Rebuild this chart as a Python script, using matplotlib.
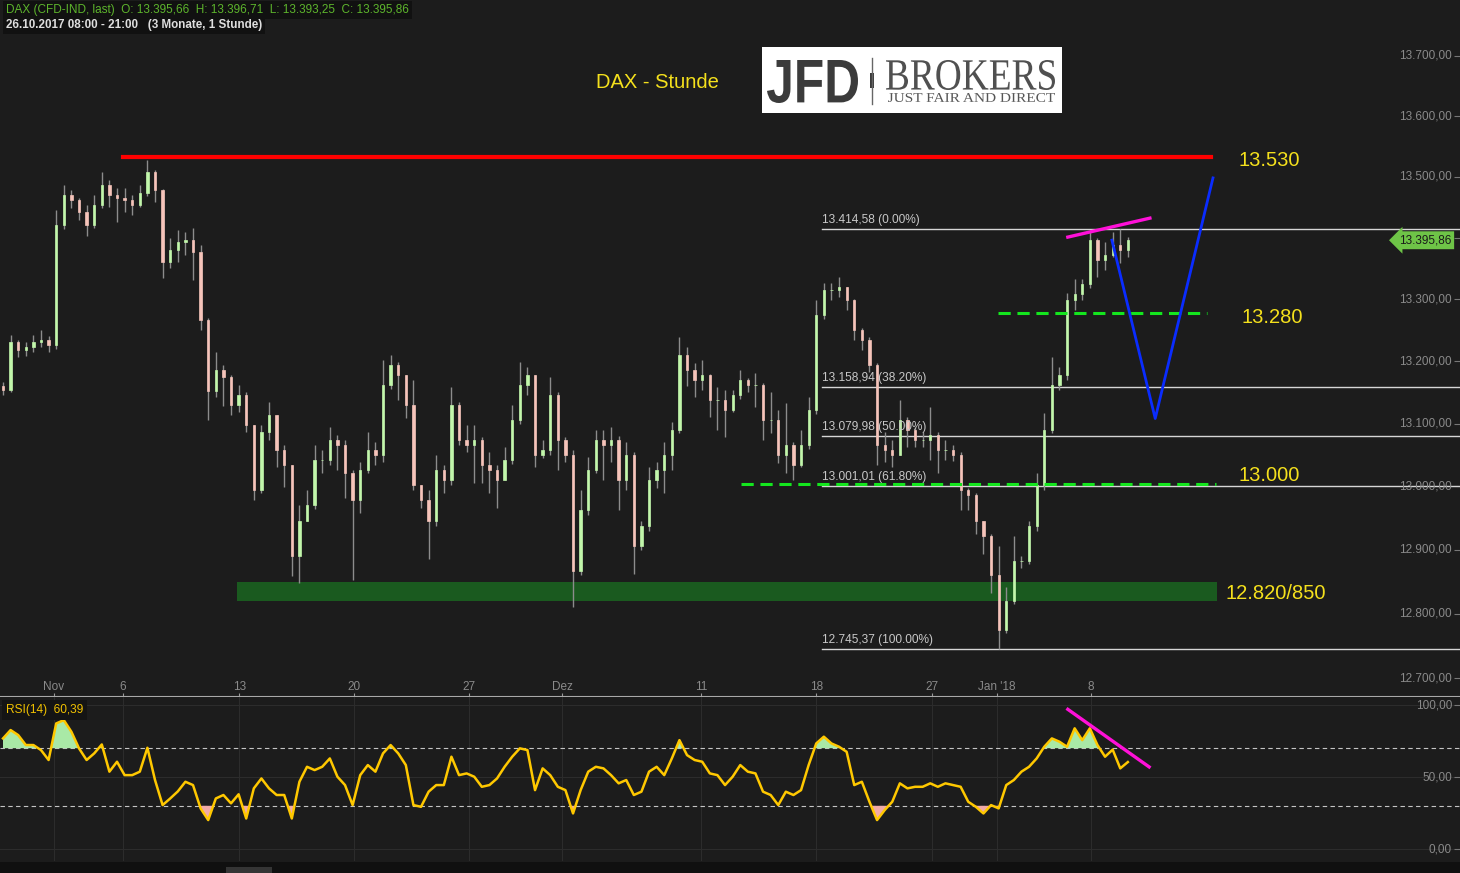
import numpy as np
import matplotlib.pyplot as plt
from matplotlib.patches import Rectangle, PathPatch
from matplotlib.lines import Line2D
from matplotlib.textpath import TextPath
from matplotlib.font_manager import FontProperties
from matplotlib.transforms import Affine2D, blended_transform_factory
from matplotlib.ticker import FixedLocator, NullLocator

plt.rcParams['font.family'] = ['Liberation Sans', 'DejaVu Sans']

########## price data (hourly bars, resampled to ~3 bars per day)
first_open = 13160
close = [13154, 13230, 13218, 13222, 13231, 13234, 13226, 13421, 13470, 13462,
         13442, 13421, 13454, 13486, 13470, 13465, 13462, 13454, 13473, 13508,
         13478, 13361, 13380, 13393, 13397, 13377, 13266, 13152, 13186, 13174,
         13130, 13146, 13098, 12994, 13087, 13114, 13058, 13034, 12890, 12946,
         12970, 13042, 13042, 13074, 13066, 13022, 12978, 13026, 13058, 13050,
         13162, 13194, 13178, 13130, 13002, 12978, 12946, 13026, 13010, 13130,
         13074, 13066, 13074, 13034, 13026, 13010, 13042, 13106, 13162, 13178,
         13050, 13058, 13146, 13074, 13050, 12867, 12962, 13026, 13074, 13066,
         13074, 13010, 13050, 12906, 12938, 13010, 13026, 13050, 13090, 13210,
         13186, 13170, 13178, 13138, 13138, 13122, 13146, 13170, 13162, 13162,
         13106, 13106, 13050, 13066, 13034, 13066, 13122, 13274, 13315, 13315,
         13320, 13298, 13250, 13234, 13194, 13066, 13058, 13050, 13106, 13090,
         13074, 13074, 13082, 13058, 13058, 13050, 12994, 12986, 12946, 12922,
         12860, 12774, 12820, 12883, 12883, 12938, 13002, 13090, 13162, 13178,
         13298, 13308, 13324, 13397, 13364, 13372, 13388, 13380, 13395.86]
high = [13166, 13242, 13234, 13231, 13242, 13250, 13241, 13446, 13486, 13478,
        13465, 13454, 13470, 13508, 13494, 13481, 13481, 13470, 13486, 13528,
        13511, 13480, 13400, 13413, 13410, 13416, 13388, 13270, 13215, 13194,
        13178, 13162, 13150, 13098, 13098, 13135, 13114, 13066, 13034, 12970,
        12994, 13066, 13058, 13095, 13082, 13074, 13026, 13039, 13087, 13070,
        13202, 13210, 13199, 13178, 13170, 13002, 12994, 13050, 13034, 13158,
        13135, 13098, 13098, 13079, 13055, 13034, 13062, 13130, 13199, 13190,
        13178, 13074, 13175, 13150, 13079, 13058, 12994, 13047, 13090, 13090,
        13094, 13080, 13070, 13055, 12946, 13031, 13038, 13070, 13102, 13239,
        13222, 13197, 13202, 13180, 13158, 13154, 13154, 13186, 13173, 13181,
        13165, 13150, 13122, 13133, 13070, 13090, 13142, 13298, 13326, 13326,
        13336, 13315, 13300, 13254, 13239, 13197, 13086, 13074, 13138, 13111,
        13094, 13086, 13127, 13086, 13074, 13065, 13054, 12998, 12990, 12946,
        12925, 12906, 12841, 12922, 12890, 12946, 13021, 13117, 13207, 13190,
        13310, 13332, 13332, 13413, 13400, 13393, 13410, 13414, 13401]
low = [13145, 13150, 13207, 13209, 13215, 13222, 13215, 13220, 13415, 13449,
       13429, 13403, 13416, 13449, 13451, 13426, 13442, 13437, 13451, 13468,
       13459, 13334, 13351, 13361, 13372, 13331, 13250, 13106, 13142, 13128,
       13114, 13118, 13087, 12978, 12990, 13074, 13031, 12999, 12859, 12848,
       12946, 12965, 13022, 13034, 13026, 12982, 12852, 12958, 13022, 13034,
       13038, 13155, 13138, 13109, 12994, 12966, 12885, 12938, 12990, 13002,
       13066, 13055, 13005, 13005, 12989, 12966, 13018, 13035, 13100, 13146,
       13031, 13045, 13050, 13026, 13039, 12810, 12860, 12955, 13021, 13010,
       13038, 12962, 12994, 12862, 12900, 12930, 12998, 12990, 13026, 13085,
       13160, 13143, 13154, 13111, 13090, 13079, 13118, 13140, 13150, 13127,
       13074, 13085, 13037, 13021, 13010, 13031, 13060, 13115, 13268, 13298,
       13303, 13282, 13234, 13218, 13182, 13034, 13038, 13031, 13050, 13063,
       13063, 13063, 13042, 13021, 13042, 13041, 12962, 12962, 12925, 12894,
       12832, 12745, 12770, 12815, 12872, 12878, 12930, 12995, 13085, 13154,
       13170, 13282, 13298, 13318, 13336, 13348, 13369, 13359, 13369]
rsi = [76.8, 82.6, 79.1, 72.2, 72.2, 68.7, 61.8, 87.2, 89.5, 81.4,
       69.9, 61.8, 66.4, 72.6, 53.7, 60.6, 51.3, 51.3, 53.7, 70.3,
       47.9, 30.5, 35.1, 40.0, 46.7, 44.4, 28.2, 20.1, 35.1, 37.5,
       31.7, 38.0, 21.2, 42.1, 49.0, 42.1, 37.5, 37.5, 21.2, 46.7,
       57.1, 54.8, 57.1, 62.9, 50.2, 44.4, 30.5, 51.3, 58.3, 53.7,
       66.4, 72.2, 66.4, 58.3, 30.5, 29.3, 39.8, 44.4, 44.4, 64.1,
       51.3, 52.5, 50.2, 43.2, 44.4, 49.0, 57.1, 64.1, 69.9, 68.7,
       40.9, 56.0, 51.3, 43.2, 40.9, 24.7, 40.9, 53.7, 57.1, 56.0,
       51.3, 45.6, 47.9, 37.5, 39.8, 53.7, 57.1, 51.3, 62.9, 75.6,
       65.2, 61.8, 60.6, 52.5, 51.3, 44.4, 50.2, 58.3, 53.7, 52.5,
       39.8, 37.5, 30.5, 39.8, 37.5, 40.9, 58.3, 73.3, 78.0, 73.3,
       71.0, 67.5, 44.4, 46.7, 32.8, 20.1, 27.0, 32.8, 45.6, 42.1,
       43.2, 43.2, 45.6, 43.2, 45.6, 44.4, 43.2, 32.8, 29.3, 24.7,
       30.5, 28.2, 44.4, 47.9, 53.7, 57.1, 62.9, 71.0, 76.8, 74.5,
       71.0, 83.8, 75.6, 83.8, 72.2, 64.1, 69.0, 56.0, 60.39]

tick_pos = [6.7, 15.8, 31.1, 46.2, 61.3, 73.6, 91.9, 107.0, 122.2, 130.8, 143.1]
tick_lab = ['Nov', '6', '13', '20', '27', 'Dez', '11', '18', '27', "Jan '18", '8']
price_ticks = [12700, 12800, 12900, 13000, 13100, 13200, 13300, 13400, 13500, 13600, 13700]
rsi_ticks = [0, 50, 100]

fib_levels = [13414.58, 13158.94, 13079.98, 13001.01, 12745.37]
fib_pct = ['0.00%', '38.20%', '50.00%', '61.80%', '100.00%']
fib_start = 107.8

resistance = 13532
resistance_x = [15.8, 158.9]
support = [13278, 13004]
support_x = [[130.9, 158.4], [97.1, 159.6]]
zone = [12820, 12850]
zone_x = [30.8, 159.7]
wedge_x = [140.1, 150.9]
wedge_y = [13401, 13432]
path_x = [145.9, 151.6, 159.2]
path_y = [13396, 13108, 13498]
rsi_trend_x = [140.1, 150.8]
rsi_trend_y = [97, 57]
level_text = ['13.530', '13.280', '13.000', '12.820/850']
level_x = [162.6, 162.9, 162.6, 160.9]
level_y = [13526, 13271, 13017, 12831]


def de(v):
    return f"{v:,.2f}".replace(',', ' ').replace('.', ',').replace(' ', '.')


W, H = 1460, 873
bg = '#1c1c1c'
yellow = '#f4e01c'
grey = '#8a8a8a'

fig = plt.figure(figsize=(W / 100, H / 100), dpi=100)
fig.patch.set_facecolor(bg)
ax = fig.add_axes([0, 1 - 697 / H, 1, 697 / H], facecolor=bg)
rax = fig.add_axes([0, 1 - 861 / H, 1, 164 / H], facecolor=bg)

x = np.arange(len(close))
close = np.array(close, float)
opens = np.r_[first_open, close[:-1]]
high = np.maximum(np.array(high, float), np.maximum(opens, close))
low = np.minimum(np.array(low, float), np.minimum(opens, close))
up = close >= opens

##################################### candles
ax.set_yscale('log')
ax.vlines(x, low, high, color='#8c8c8c', lw=1.0, zorder=3)
ax.bar(x[up], (close - opens)[up], bottom=opens[up], width=0.3,
       color='#c2f7ab', edgecolor='#c2f7ab', lw=0.5, zorder=4)
ax.bar(x[~up], (opens - close)[~up], bottom=close[~up], width=0.3,
       color='#f6c4ba', edgecolor='#f6c4ba', lw=0.5, zorder=4)

ax.set_xlim(-0.395, 191.7)
ax.set_ylim(12670.7, 13793.8)
rax.set_xlim(-0.395, 191.7)
rax.set_ylim(-8.33, 105.56)

##################################### analysis drawings
ax.fill_between(zone_x, zone[0], zone[1], color='#1a5a1f', lw=0, zorder=2)
for lvl, pct in zip(fib_levels, fib_pct):
    ax.plot([fib_start, 200], [lvl, lvl], color='#d6d6d6', lw=1, zorder=2)
    ax.annotate(f"{de(lvl)} ({pct})", (fib_start, lvl), xytext=(0, 2),
                textcoords='offset points', color='#c8c8c8', fontsize=8.6,
                ha='left', va='bottom', zorder=5)
ax.plot(resistance_x, [resistance, resistance], color='#ff0000', lw=3, zorder=6)
for lvl, sx in zip(support, support_x):
    ax.plot(sx, [lvl, lvl], color='#14e61e', lw=2.2, dashes=(4, 2.2), zorder=6)
ax.plot(wedge_x, wedge_y, color='#ff10d8', lw=2.4, zorder=7)
ax.plot(path_x, path_y, color='#0a2cff', lw=2, zorder=7)
for t, lx, ly in zip(level_text, level_x, level_y):
    ax.text(lx, ly, t, color=yellow, fontsize=14.5, ha='left', va='center', zorder=8)

##################################### axes dressing
for sp in ax.spines.values():
    sp.set_visible(False)
ax.spines['bottom'].set_visible(True)
ax.spines['bottom'].set_color('#a8a8a8')
ax.spines['bottom'].set_linewidth(1.5)
ax.yaxis.set_major_locator(FixedLocator(price_ticks))
ax.yaxis.set_minor_locator(NullLocator())
ax.tick_params(axis='y', which='both', left=False, right=True, labelleft=False,
               direction='in', length=4, color='#777777')
ax.set_xticks(tick_pos)
ax.tick_params(axis='x', direction='in', length=3, color='#999999', labelbottom=False)

ytr = blended_transform_factory(ax.transAxes, ax.transData)
for p in price_ticks:
    if abs(p - close[-1]) < 15:   # hidden behind the last-price tag
        continue
    ax.text(1452 / W, p, de(p), transform=ytr, ha='right', va='center',
            color=grey, fontsize=8.5, zorder=5)
xtr = blended_transform_factory(ax.transData, ax.transAxes)
for p, l in zip(tick_pos, tick_lab):
    ax.text(p, 10 / 697, l, transform=xtr, ha='center', va='center',
            color=grey, fontsize=8.5)
ax.text(1425 / W, close[-1], de(close[-1]), transform=ytr, ha='center', va='center',
        fontsize=8.5, color='#1a1a1a', zorder=10,
        bbox=dict(boxstyle='larrow,pad=0.25', fc='#6ec447', ec='none'))

##################################### RSI panel
rsi = np.array(rsi)
rax.fill_between(x, rsi, 70, where=rsi >= 70, interpolate=True, color='#a9e9a6', lw=0, zorder=2)
rax.fill_between(x, rsi, 30, where=rsi <= 30, interpolate=True, color='#f0aaa8', lw=0, zorder=2)
rax.plot(x, rsi, color='#ffc800', lw=1.8, zorder=4)
for lvl in [70, 30]:
    rax.axhline(lvl, color='#c4c4c4', lw=0.8, dashes=(4, 3), zorder=1)
rax.plot(rsi_trend_x, rsi_trend_y, color='#ff10d8', lw=2.4, zorder=5)
for sp in rax.spines.values():
    sp.set_visible(False)
rax.set_xticks(tick_pos)
rax.set_yticks(rsi_ticks)
rax.grid(True, color='#2c2c2c', lw=0.8)
rax.set_axisbelow(True)
rax.tick_params(axis='x', length=0, labelbottom=False)
rax.tick_params(axis='y', left=False, right=True, labelleft=False, direction='in',
                length=4, color='#777777')
rtr = blended_transform_factory(rax.transAxes, rax.transData)
for v in rsi_ticks:
    rax.text(1452 / W, v, de(v), transform=rtr, ha='right', va='center',
             color=grey, fontsize=8.5)

##################################### headers, title, logo
fig.text(6 / W, 1 - 10 / H,
         'DAX (CFD-IND, last)  O: 13.395,66  H: 13.396,71  L: 13.393,25  C: 13.395,86',
         color='#5db52c', fontsize=8.5, va='center', ha='left',
         bbox=dict(fc='#111111', ec='none', boxstyle='square,pad=0.25'))
fig.text(6 / W, 1 - 25 / H, '26.10.2017 08:00 - 21:00   (3 Monate, 1 Stunde)',
         color='#dedede', fontsize=8.4, fontweight='bold', va='center', ha='left',
         bbox=dict(fc='#111111', ec='none', boxstyle='square,pad=0.25'))
fig.text(6 / W, 1 - 710 / H, 'RSI(14)  60,39', color='#f2c200', fontsize=8.6,
         va='center', ha='left', bbox=dict(fc='#141414', ec='none', boxstyle='square,pad=0.3'))
fig.text(657 / W, 1 - 82 / H, 'DAX - Stunde', color=yellow, fontsize=14.5,
         ha='center', va='center')

fig.add_artist(Rectangle((762 / W, 1 - 113 / H), 300 / W, 66 / H,
                         transform=fig.transFigure, fc='white', ec='none'))


def fit_text(s, x0, y0, x1, y1, family, weight, color):
    path = TextPath((0, 0), s, size=100, prop=FontProperties(family=family, weight=weight))
    ext = path.get_extents()
    tr = (Affine2D().translate(-ext.x0, -ext.y0)
          .scale((x1 - x0) / ext.width, (y1 - y0) / ext.height)
          .translate(x0, H - y1))
    fig.add_artist(PathPatch(path, transform=tr, fc=color, ec='none'))


fit_text('JFD', 767, 60, 858, 103, 'Liberation Sans', 'bold', '#3b3b3b')
fit_text('BROKERS', 886, 60, 1055, 90, 'Liberation Serif', 'normal', '#505050')
fit_text('JUST FAIR AND DIRECT', 888, 93, 1055, 102, 'Liberation Serif', 'normal', '#555555')
fig.add_artist(Line2D([872 / W, 872 / W], [1 - 104 / H, 1 - 58 / H],
                      transform=fig.transFigure, color='#666666', lw=1))
fig.add_artist(Rectangle((870 / W, 1 - 88 / H), 4 / W, 15 / H,
                         transform=fig.transFigure, fc='#3b3b3b', ec='none'))

# bottom scroll strip
fig.add_artist(Rectangle((0, 0), 1, 11 / H, transform=fig.transFigure, fc='#101010', ec='none'))
fig.add_artist(Rectangle((226 / W, 0), 46 / W, 6 / H, transform=fig.transFigure,
                         fc='#353535', ec='none'))

plt.savefig('out.png', dpi=100, facecolor=bg)
